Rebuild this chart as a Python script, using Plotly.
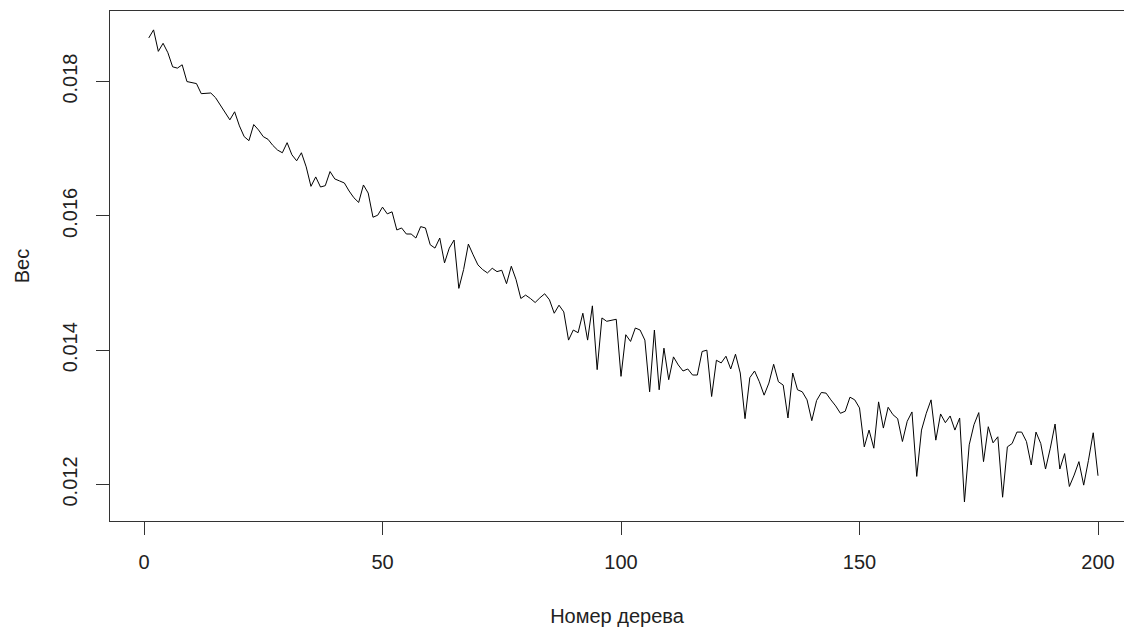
import plotly.graph_objects as go

# Tree index and its weight
tree_number = list(range(1, 201))
weight = [
    0.01865, 0.01877, 0.01845, 0.01857, 0.01843, 0.01822, 0.01820, 0.01825, 0.01800, 0.01799,
    0.01797, 0.01782, 0.01782, 0.01783, 0.01776, 0.01765, 0.01755, 0.01743, 0.01755, 0.01734,
    0.01718, 0.01712, 0.01736, 0.01728, 0.01718, 0.01714, 0.01705, 0.01698, 0.01694, 0.01709,
    0.01691, 0.01682, 0.01694, 0.01673, 0.01644, 0.01658, 0.01643, 0.01645, 0.01666, 0.01655,
    0.01652, 0.01649, 0.01637, 0.01627, 0.01620, 0.01646, 0.01634, 0.01598, 0.01601, 0.01613,
    0.01603, 0.01606, 0.01579, 0.01582, 0.01573, 0.01573, 0.01567, 0.01584, 0.01582, 0.01557,
    0.01552, 0.01567, 0.01530, 0.01552, 0.01564, 0.01492, 0.01520, 0.01558, 0.01542, 0.01527,
    0.01520, 0.01515, 0.01522, 0.01517, 0.01519, 0.01499, 0.01525, 0.01505, 0.01477, 0.01482,
    0.01477, 0.01471, 0.01478, 0.01484, 0.01475, 0.01455, 0.01467, 0.01457, 0.01415, 0.01430,
    0.01426, 0.01455, 0.01415, 0.01466, 0.01371, 0.01448, 0.01443, 0.01445, 0.01446, 0.01361,
    0.01423, 0.01413, 0.01433, 0.01430, 0.01415, 0.01338, 0.01430, 0.01341, 0.01403, 0.01356,
    0.01390, 0.01378, 0.01369, 0.01372, 0.01363, 0.01363, 0.01398, 0.01400, 0.01331, 0.01385,
    0.01381, 0.01391, 0.01372, 0.01394, 0.01366, 0.01298, 0.01359, 0.01369, 0.01353, 0.01333,
    0.01351, 0.01379, 0.01353, 0.01348, 0.01299, 0.01366, 0.01341, 0.01338, 0.01326, 0.01295,
    0.01325, 0.01337, 0.01336, 0.01326, 0.01317, 0.01306, 0.01309, 0.01330, 0.01326, 0.01314,
    0.01256, 0.01281, 0.01254, 0.01323, 0.01284, 0.01315, 0.01304, 0.01298, 0.01264, 0.01294,
    0.01308, 0.01212, 0.01281, 0.01306, 0.01326, 0.01266, 0.01305, 0.01292, 0.01302, 0.01281,
    0.01299, 0.01174, 0.01259, 0.01289, 0.01307, 0.01234, 0.01286, 0.01262, 0.01271, 0.01181,
    0.01256, 0.01261, 0.01278, 0.01278, 0.01264, 0.01229, 0.01278, 0.01261, 0.01223, 0.01254,
    0.01290, 0.01223, 0.01246, 0.01197, 0.01214, 0.01234, 0.01199, 0.01236, 0.01277, 0.01213,
]

x_ticks = [0, 50, 100, 150, 200]
y_ticks = [0.012, 0.014, 0.016, 0.018]
y_tick_text = ["0.012", "0.014", "0.016", "0.018"]

FONT = "Liberation Sans, Arial, sans-serif"

fig = go.Figure(
    go.Scatter(
        x=tree_number,
        y=weight,
        mode="lines",
        line=dict(color="black", width=1),
        hoverinfo="skip",
    )
)

fig.update_layout(
    width=1124,
    height=629,
    margin=dict(l=110, r=0, t=11, b=108),
    paper_bgcolor="white",
    plot_bgcolor="white",
    showlegend=False,
    font=dict(family=FONT, size=20, color="#222222"),
)

fig.update_xaxes(
    range=[-7.13, 205.45],
    tickvals=x_ticks,
    ticks="outside",
    ticklen=13,
    tickwidth=1,
    tickcolor="#333333",
    showgrid=False,
    zeroline=False,
    showline=True,
    linecolor="#333333",
    linewidth=1,
    mirror=True,
    ticklabelstandoff=10,
    title=dict(text="Номер дерева", font=dict(size=20), standoff=36),
)

fig.update_yaxes(
    range=[0.011456, 0.019051],
    tickvals=y_ticks,
    ticktext=y_tick_text,
    tickangle=-90,
    ticks="outside",
    ticklen=13,
    tickwidth=1,
    tickcolor="#333333",
    showgrid=False,
    zeroline=False,
    showline=True,
    linecolor="#333333",
    linewidth=1,
    mirror=False,
    ticklabelstandoff=11,
    title=dict(text="Вес", font=dict(size=20), standoff=24),
)

fig.write_html("out.html")
